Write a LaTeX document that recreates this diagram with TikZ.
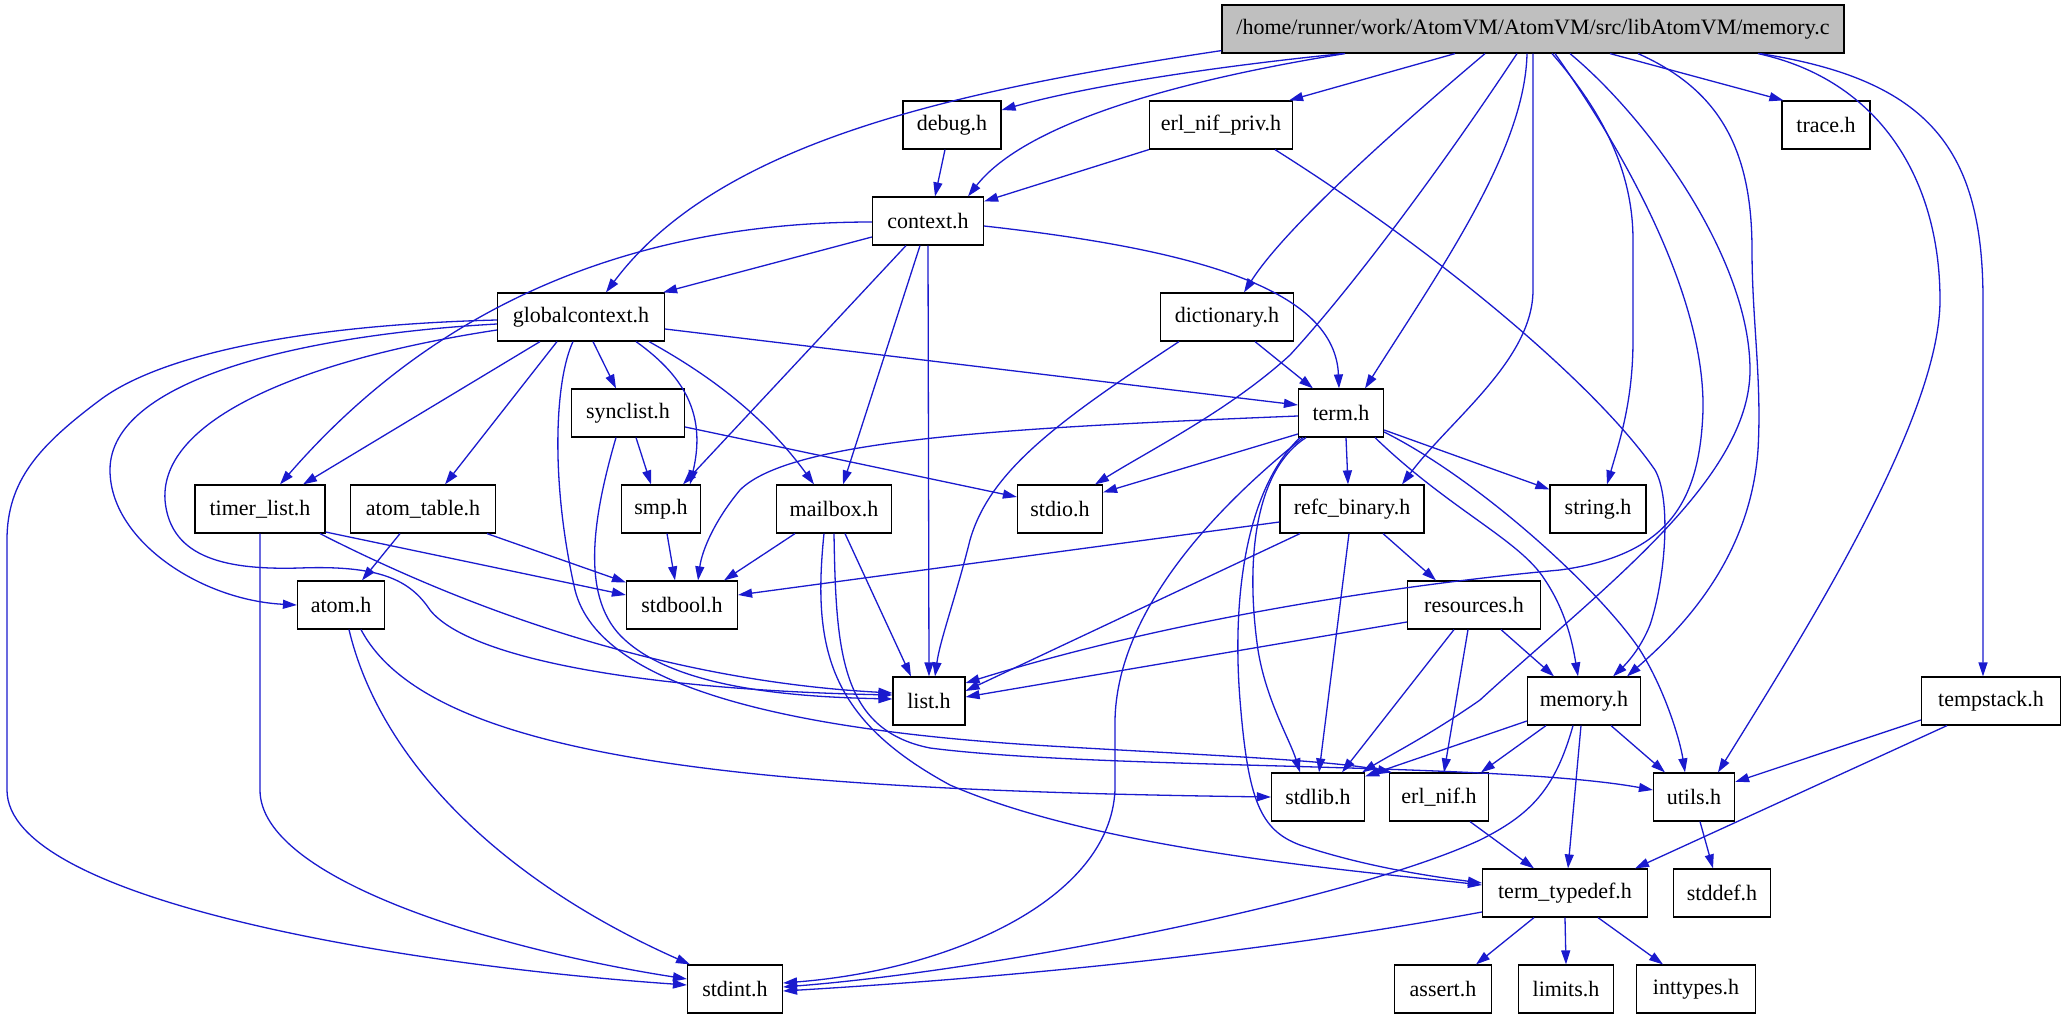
\documentclass[tikz,border=0pt]{standalone}
\usepackage{fontspec}
\newfontfamily\dotfont{Liberation Serif}
\usetikzlibrary{arrows.meta}
\definecolor{edgeblue}{RGB}{26,26,206}
\definecolor{rootgray}{RGB}{191,191,191}
\begin{document}
\begin{tikzpicture}[x=1pt,y=-1pt,
  hdr/.style={draw=black, line width=1.2pt, fill=white, minimum height=48pt, inner sep=0pt, font=\dotfont\fontsize{22}{26}\selectfont},
  inc/.style={draw=edgeblue, line width=1.3pt, -{Triangle[length=14pt,width=9pt]}}
]
\fill[white] (0,0) rectangle (2065,1019);
\useasboundingbox (0,0) rectangle (2065,1019);
% nodes
\node[hdr, fill=rootgray, minimum width=622pt] (memc) at (1533,29) {/home/runner/work/AtomVM/AtomVM/src/libAtomVM/memory.c};
\node[hdr, minimum width=98pt] (debug) at (952,125) {debug.h};
\node[hdr, minimum width=143pt] (enifp) at (1221,125) {erl\_nif\_priv.h};
\node[hdr, minimum width=88pt] (trace) at (1826,125) {trace.h};
\node[hdr, minimum width=111pt] (ctx) at (928,221) {context.h};
\node[hdr, minimum width=167pt] (gctx) at (581,317) {globalcontext.h};
\node[hdr, minimum width=133pt] (dict) at (1227,317) {dictionary.h};
\node[hdr, minimum width=113pt] (sync) at (628,413) {synclist.h};
\node[hdr, minimum width=85pt] (term) at (1341,413) {term.h};
\node[hdr, minimum width=130pt] (timer) at (260,509) {timer\_list.h};
\node[hdr, minimum width=145pt] (atomt) at (423,509) {atom\_table.h};
\node[hdr, minimum width=79pt] (smp) at (661,509) {smp.h};
\node[hdr, minimum width=115pt] (mbox) at (834,509) {mailbox.h};
\node[hdr, minimum width=85pt] (stdio) at (1060,509) {stdio.h};
\node[hdr, minimum width=144pt] (refc) at (1352,509) {refc\_binary.h};
\node[hdr, minimum width=96pt] (string) at (1598,509) {string.h};
\node[hdr, minimum width=87pt] (atom) at (341,605) {atom.h};
\node[hdr, minimum width=111pt] (stdbool) at (682,605) {stdbool.h};
\node[hdr, minimum width=133pt] (res) at (1474,605) {resources.h};
\node[hdr, minimum width=72pt] (list) at (929,701) {list.h};
\node[hdr, minimum width=113pt] (mem) at (1584,701) {memory.h};
\node[hdr, minimum width=139pt] (tstack) at (1991,701) {tempstack.h};
\node[hdr, minimum width=93pt] (stdlib) at (1318,797) {stdlib.h};
\node[hdr, minimum width=99pt] (enif) at (1439,797) {erl\_nif.h};
\node[hdr, minimum width=81pt] (utils) at (1694,797) {utils.h};
\node[hdr, minimum width=165pt] (ttd) at (1565,893) {term\_typedef.h};
\node[hdr, minimum width=97pt] (stddef) at (1722,893) {stddef.h};
\node[hdr, minimum width=95pt] (stdint) at (735,989) {stdint.h};
\node[hdr, minimum width=97pt] (assert) at (1443,989) {assert.h};
\node[hdr, minimum width=95pt] (limits) at (1566,989) {limits.h};
\node[hdr, minimum width=119pt] (inttypes) at (1696,989) {inttypes.h};
% memory.c
\draw[inc] ([yshift=3pt]memc.south west) .. controls (960,90) and (720,140) .. ([xshift=25pt]gctx.north);
\draw[inc] ([xshift=-190pt]memc.south) .. controls (1200,68) and (1080,88) .. ([yshift=15pt]debug.east);
\draw[inc] ([xshift=-188pt]memc.south) .. controls (1150,85) and (1020,130) .. ([xshift=40pt]ctx.north);
\draw[inc] ([xshift=-78pt]memc.south) -- ([xshift=-4pt]enifp.north east);
\draw[inc] ([xshift=-48pt]memc.south) .. controls (1430,100) and (1290,220) .. ([xshift=17pt]dict.north);
\draw[inc] ([xshift=-16pt]memc.south) .. controls (1440,170) and (1350,290) .. (1290,355) .. controls (1230,410) and (1150,450) .. ([xshift=35pt]stdio.north);
\draw[inc] ([xshift=-6pt]memc.south) .. controls (1525,150) and (1440,270) .. ([xshift=24pt]term.north);
\draw[inc] (memc.south) -- (1533,290) .. controls (1533,360) and (1450,420) .. ([xshift=50pt]refc.north);
\draw[inc] ([xshift=19pt]memc.south) .. controls (1610,120) and (1633,180) .. (1633,240) -- (1633,340) .. controls (1633,400) and (1620,440) .. ([xshift=9pt]string.north);
\draw[inc] ([xshift=22pt]memc.south) .. controls (1630,160) and (1705,300) .. (1703,410) .. controls (1700,500) and (1670,555) .. (1560,570) .. controls (1450,580) and (1200,610) .. ([yshift=18pt]list.east);
\draw[inc] ([xshift=37pt]memc.south) .. controls (1650,120) and (1750,260) .. (1750,370) .. controls (1750,480) and (1600,590) .. (1480,700) .. controls (1430,735) and (1390,755) .. ([xshift=-3pt]stdlib.north east);
\draw[inc] ([xshift=105pt]memc.south) .. controls (1720,90) and (1752,150) .. (1752,250) .. controls (1752,320) and (1762,380) .. (1758,450) .. controls (1750,560) and (1680,630) .. ([xshift=43pt]mem.north);
\draw[inc] ([xshift=77pt]memc.south) -- ([xshift=2pt]trace.north west);
\draw[inc] ([xshift=225pt]memc.south) .. controls (1880,80) and (1940,180) .. (1940,300) .. controls (1940,420) and (1800,640) .. ([xshift=24pt]utils.north);
\draw[inc] ([xshift=227pt]memc.south) .. controls (1930,80) and (1983,150) .. (1983,300) -- ([xshift=-8pt]tstack.north);
% debug, erl_nif_priv
\draw[inc] ([xshift=-7pt]debug.south) -- ([xshift=7pt]ctx.north);
\draw[inc] (enifp.south west) -- ([yshift=-5pt]ctx.north east);
\draw[inc] ([xshift=54pt]enifp.south) .. controls (1450,260) and (1600,390) .. (1655,470) .. controls (1672,500) and (1665,580) .. (1650,625) .. controls (1640,650) and (1625,665) .. ([xshift=29pt]mem.north);
% context.h
\draw[inc] ([yshift=-16pt]ctx.west) -- ([xshift=-2pt]gctx.north east);
\draw[inc] ([yshift=-1pt]ctx.west) .. controls (640,222) and (440,300) .. ([xshift=20pt]timer.north);
\draw[inc] ([yshift=-5pt]ctx.east) .. controls (1200,250) and (1335,290) .. ([xshift=-2pt]term.north);
\draw[inc] ([xshift=-22pt]ctx.south) -- ([xshift=22pt]smp.north);
\draw[inc] ([xshift=-8pt]ctx.south) -- ([xshift=9pt]mbox.north);
\draw[inc] (ctx.south) -- (list.north);
% dictionary.h
\draw[inc] ([xshift=28pt]dict.south) -- ([xshift=-28pt]term.north);
\draw[inc] ([xshift=-48pt]dict.south) .. controls (1060,420) and (990,470) .. (970,540) .. controls (955,600) and (940,640) .. ([xshift=6pt]list.north);
% globalcontext.h
\draw[inc] ([xshift=12pt]gctx.south) -- ([xshift=-12pt]sync.north);
\draw[inc] ([xshift=55pt]gctx.south) .. controls (690,380) and (705,420) .. ([xshift=29pt]smp.north);
\draw[inc] ([xshift=68pt]gctx.south) .. controls (700,370) and (760,410) .. ([xshift=-20pt]mbox.north);
\draw[inc] ([xshift=-41pt]gctx.south) -- ([xshift=43pt]timer.north);
\draw[inc] ([xshift=-24pt]gctx.south) -- ([xshift=22pt]atomt.north);
\draw[inc] ([yshift=-12pt]gctx.east) -- ([yshift=8pt]term.west);
\draw[inc] ([yshift=-7pt]gctx.west) .. controls (300,335) and (110,380) .. (110,470) .. controls (110,540) and (200,600) .. (atom.west);
\draw[inc] ([yshift=-3pt]gctx.west) .. controls (300,325) and (160,355) .. (100,400) .. controls (40,445) and (7,480) .. (7,540) -- (7,790) .. controls (7,900) and (400,965) .. ([yshift=4pt]stdint.west);
\draw[inc] ([yshift=-13pt]gctx.west) .. controls (300,360) and (160,420) .. (165,500) .. controls (170,560) and (230,570) .. (300,568) .. controls (380,565) and (410,580) .. (430,610) .. controls (470,660) and (650,690) .. ([yshift=6pt]list.west);
\draw[inc] ([xshift=-8pt]gctx.south) .. controls (555,380) and (550,480) .. (575,590) .. controls (600,690) and (800,730) .. (1033,745) .. controls (1200,755) and (1330,760) .. ([xshift=3pt]enif.north west);
% synclist.h
\draw[inc] ([xshift=8pt]sync.south) -- ([xshift=-10pt]smp.north);
\draw[inc] ([yshift=-14pt]sync.east) -- ([yshift=12pt]stdio.west);
\draw[inc] ([xshift=-12pt]sync.south) .. controls (592,520) and (580,600) .. (625,640) .. controls (680,690) and (800,697) .. ([yshift=2pt]list.west);
% timer_list.h
\draw[inc] (timer.south) -- (260,790) .. controls (260,880) and (500,950) .. ([yshift=10pt]stdint.west);
\draw[inc] ([yshift=-23pt]timer.east) -- ([yshift=10pt]stdbool.west);
\draw[inc] ([xshift=60pt]timer.south) .. controls (450,600) and (650,680) .. ([yshift=8pt]list.west);
% atom_table.h, smp.h
\draw[inc] ([xshift=-23pt]atomt.south) -- ([xshift=21pt]atom.north);
\draw[inc] ([xshift=64pt]atomt.south) -- ([yshift=-2pt]stdbool.north west);
\draw[inc] ([xshift=6pt]smp.south) -- ([xshift=-7pt]stdbool.north);
% mailbox.h
\draw[inc] ([xshift=-39pt]mbox.south) -- ([xshift=42pt]stdbool.north);
\draw[inc] ([xshift=11pt]mbox.south) -- ([xshift=-18pt]list.north);
\draw[inc] ([xshift=-10pt]mbox.south) .. controls (812,650) and (830,720) .. (950,785) .. controls (1100,850) and (1350,870) .. ([yshift=8pt]ttd.west);
\draw[inc] (mbox.south) .. controls (836,650) and (840,730) .. (930,748) .. controls (1100,770) and (1500,762) .. ([yshift=7pt]utils.west);
% term.h
\draw[inc] ([yshift=-3pt]term.west) .. controls (1000,428) and (790,440) .. (740,490) .. controls (715,520) and (702,550) .. ([xshift=16pt]stdbool.north);
\draw[inc] ([yshift=-21pt]term.west) -- ([yshift=-8pt]stdio.north east);
\draw[inc] ([xshift=-38pt]term.south) .. controls (1200,520) and (1117,620) .. (1115,720) -- (1115,790) .. controls (1110,900) and (950,970) .. ([yshift=6pt]stdint.east);
\draw[inc] ([xshift=-35pt]term.south) .. controls (1255,470) and (1245,560) .. (1258,650) .. controls (1266,700) and (1290,740) .. ([xshift=-18pt]stdlib.north);
\draw[inc] ([xshift=-41pt]term.south) .. controls (1245,490) and (1232,600) .. (1240,700) .. controls (1248,800) and (1260,830) .. (1300,845) .. controls (1360,865) and (1420,875) .. ([yshift=10pt]ttd.west);
\draw[inc] ([xshift=5pt]term.south) -- ([xshift=-4pt]refc.north);
\draw[inc] ([xshift=34pt]term.south) .. controls (1450,510) and (1520,540) .. (1545,580) .. controls (1565,610) and (1572,640) .. ([xshift=-6pt]mem.north);
\draw[inc] ([yshift=-17pt]term.east) -- ([yshift=-5pt]string.north west);
\draw[inc] ([yshift=-19pt]term.east) .. controls (1480,480) and (1600,590) .. (1640,650) .. controls (1665,690) and (1680,740) .. ([xshift=-9pt]utils.north);
% refc_binary.h
\draw[inc] ([yshift=-13pt]refc.west) -- ([yshift=10pt]stdbool.east);
\draw[inc] ([xshift=-52pt]refc.south) -- ([yshift=10pt]list.east);
\draw[inc] ([xshift=-3pt]refc.south) -- ([xshift=1pt]stdlib.north);
\draw[inc] ([xshift=31pt]refc.south) -- ([xshift=-38pt]res.north);
% resources.h
\draw[inc] ([yshift=-17pt]res.west) -- ([yshift=4pt]list.east);
\draw[inc] ([xshift=-20pt]res.south) -- ([xshift=24pt]stdlib.north);
\draw[inc] ([xshift=-6pt]res.south) -- ([xshift=5pt]enif.north);
\draw[inc] ([xshift=27pt]res.south) -- ([xshift=-30pt]mem.north);
% memory.h
\draw[inc] ([yshift=-20pt]mem.west) -- ([yshift=-4pt]stdlib.north east);
\draw[inc] ([xshift=-38pt]mem.south) -- ([xshift=42pt]enif.north);
\draw[inc] ([xshift=27pt]mem.south) -- ([xshift=-29pt]utils.north);
\draw[inc] ([xshift=-3pt]mem.south) -- ([xshift=3pt]ttd.north);
\draw[inc] ([xshift=-11pt]mem.south) .. controls (1555,790) and (1530,815) .. (1480,840) .. controls (1350,900) and (1000,970) .. ([yshift=2pt]stdint.east);
% tempstack.h
\draw[inc] ([yshift=-19pt]tstack.west) -- ([yshift=15pt]utils.east);
\draw[inc] ([xshift=-44pt]tstack.south) -- ([xshift=70pt]ttd.north);
% erl_nif.h, utils.h
\draw[inc] ([xshift=31pt]enif.south) -- ([xshift=-31pt]ttd.north);
\draw[inc] ([xshift=6pt]utils.south) -- ([xshift=-9pt]stddef.north);
% term_typedef.h
\draw[inc] ([xshift=-31pt]ttd.south) -- ([xshift=33pt]assert.north);
\draw[inc] (ttd.south) -- (limits.north);
\draw[inc] ([xshift=33pt]ttd.south) -- ([xshift=-33pt]inttypes.north);
\draw[inc] ([yshift=-19pt]ttd.west) .. controls (1250,955) and (1000,978) .. ([yshift=-2pt]stdint.east);
% atom.h
\draw[inc] ([xshift=8pt]atom.south) .. controls (380,760) and (500,880) .. ([xshift=-45pt]stdint.north);
\draw[inc] ([xshift=20pt]atom.south) .. controls (430,760) and (750,790) .. (stdlib.west);
\end{tikzpicture}
\end{document}
